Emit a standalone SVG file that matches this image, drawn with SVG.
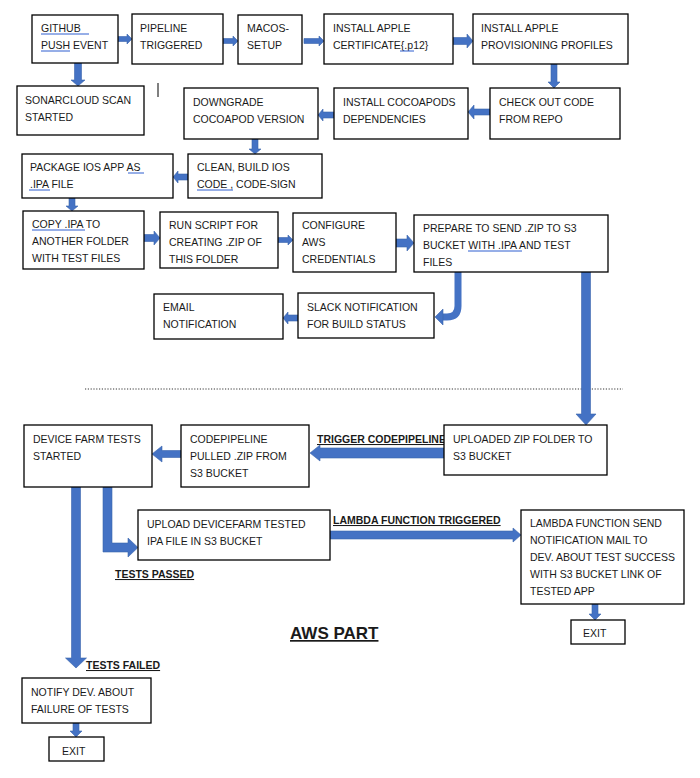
<svg xmlns="http://www.w3.org/2000/svg" width="700" height="778" viewBox="0 0 700 778">
<style>
.n rect{fill:#fff;stroke:#000;stroke-width:1.3}
text{font-family:"Liberation Sans",Arial,sans-serif;font-size:10.5px;fill:#1a1a1a}
.lbl{font-weight:bold;text-decoration:underline}
.c path{fill:#4472C4;stroke:#3b64ad;stroke-width:0.6}
.c path.s{fill:none;stroke:#4472C4;stroke-width:7}
.sp{stroke:#2f5fd0;stroke-width:1}
</style>
<rect width="700" height="778" fill="#fff"/>
<g id="labels">
<text class="lbl" x="317" y="443">TRIGGER CODEPIPELINE</text>
<text class="lbl" x="333" y="524">LAMBDA FUNCTION TRIGGERED</text>
<text class="lbl" x="115" y="578">TESTS PASSED</text>
<text class="lbl" x="86" y="669">TESTS FAILED</text>
<text class="lbl" x="290" y="639" style="font-size:17px">AWS PART</text>
</g>
<line x1="85" y1="389" x2="623" y2="389" stroke="#000" stroke-width="0.8" stroke-dasharray="1.2,1.6"/>
<line x1="158" y1="83" x2="158" y2="97" stroke="#000" stroke-width="1"/>
<g class="c" id="connectors">
<path d="M118,36.5 H127 V34 L132,39 L127,44 V41.5 H118Z"/>
<path d="M223,38.5 H233 V36 L238,41 L233,46 V43.5 H223Z"/>
<path d="M304,38.5 H319 V36 L324,41 L319,46 V43.5 H304Z"/>
<path d="M453,37.5 H467 V34 L473,41 L467,48 V44.5 H453Z"/>
<path d="M551,64 V82 H548 L554,88 L560,82 H557 V64Z"/>
<path d="M490,109 H474 V105 L468,112 L474,119 V115 H490Z"/>
<path d="M334,112 H323 V109 L318,115 L323,121 V118 H334Z"/>
<path d="M74.5,63 V80 H71 L78,86 L85,80 H81.5 V63Z"/>
<path d="M252,139 V149 H249 L255,154 L261,149 H258 V139Z"/>
<path d="M188,174 H178 V171 L173,177 L178,183 V180 H188Z"/>
<path d="M69,198 V206 H66 L72,211 L78,206 H75 V198Z"/>
<path d="M144,234.5 H154 V231 L160,238 L154,245 V241.5 H144Z"/>
<path d="M278,237.5 H288 V235 L293,240 L288,245 V242.5 H278Z"/>
<path d="M396,239 H407 V235 L414,243 L407,251 V247 H396Z"/>
<path class="s" d="M458,272 V306 Q458,317 447,317 H442"/>
<path d="M443,309 L435,317 L443,325Z"/>
<path d="M298,315 H288 V312 L283,318 L288,324 V321 H298Z"/>
<path d="M581.5,272 V414 H576 L586,425 L596,414 H590.5 V272Z"/>
<path d="M444,448 H320 V445 L310,453 L320,461 V458 H444Z"/>
<path d="M181,450.5 H162 V446 L152,454 L162,462 V457.5 H181Z"/>
<path d="M71.5,487 V658 H65.5 L76,668 L86.5,658 H80.5 V487Z"/>
<path d="M103,487 V552 H128 V557 L138,547.5 L128,538 V543 H112 V487Z"/>
<path d="M330,531 H513 V528 L521,535 L513,542 V539 H330Z"/>
<path d="M592,604 V614 H589 L595,620 L601,614 H598 V604Z"/>
<path d="M73,723 V731 H70 L76,737 L82,731 H79 V723Z"/>
</g>
<g class="n" id="github"><rect x="32" y="15" width="86" height="48"/><text x="41" y="32">GITHUB</text><text x="41" y="49">PUSH EVENT</text></g>
<g class="n" id="pipeline"><rect x="132" y="14" width="91" height="50"/><text x="140" y="32">PIPELINE</text><text x="140" y="49">TRIGGERED</text></g>
<g class="n" id="macos"><rect x="238" y="15" width="64" height="49"/><text x="247" y="32">MACOS-</text><text x="247" y="49">SETUP</text></g>
<g class="n" id="cert"><rect x="324" y="14" width="129" height="50"/><text x="333" y="32">INSTALL APPLE</text><text x="333" y="49">CERTIFICATE{.p12}</text></g>
<g class="n" id="prov"><rect x="473" y="14" width="155" height="50"/><text x="481" y="32">INSTALL APPLE</text><text x="481" y="49">PROVISIONING PROFILES</text></g>
<g class="n" id="sonar"><rect x="17" y="86" width="127" height="49"/><text x="25" y="104">SONARCLOUD SCAN</text><text x="25" y="121">STARTED</text></g>
<g class="n" id="downgrade"><rect x="184" y="88" width="134" height="51"/><text x="193" y="106">DOWNGRADE</text><text x="193" y="123">COCOAPOD VERSION</text></g>
<g class="n" id="cocoapods"><rect x="334" y="88" width="134" height="51"/><text x="343" y="106">INSTALL COCOAPODS</text><text x="343" y="123">DEPENDENCIES</text></g>
<g class="n" id="checkout"><rect x="490" y="88" width="130" height="51"/><text x="499" y="106">CHECK OUT CODE</text><text x="499" y="123">FROM REPO</text></g>
<g class="n" id="package"><rect x="22" y="154" width="151" height="44"/><text x="30" y="171">PACKAGE IOS APP AS</text><text x="30" y="188">.IPA FILE</text></g>
<g class="n" id="clean"><rect x="188" y="154" width="134" height="44"/><text x="197" y="171">CLEAN, BUILD IOS</text><text x="197" y="188">CODE , CODE-SIGN</text></g>
<g class="n" id="copy"><rect x="23" y="211" width="121" height="58"/><text x="32" y="228">COPY .IPA TO</text><text x="32" y="245">ANOTHER FOLDER</text><text x="32" y="262">WITH TEST FILES</text></g>
<g class="n" id="runscript"><rect x="160" y="212" width="118" height="56"/><text x="169" y="229">RUN SCRIPT FOR</text><text x="169" y="246">CREATING .ZIP OF</text><text x="169" y="263">THIS FOLDER</text></g>
<g class="n" id="configure"><rect x="293" y="213" width="103" height="59"/><text x="302" y="229">CONFIGURE</text><text x="302" y="246">AWS</text><text x="302" y="263">CREDENTIALS</text></g>
<g class="n" id="prepare"><rect x="414" y="215" width="194" height="57"/><text x="423" y="232">PREPARE TO SEND .ZIP TO S3</text><text x="423" y="249">BUCKET WITH .IPA AND TEST</text><text x="423" y="266">FILES</text></g>
<g class="n" id="email"><rect x="154" y="294" width="129" height="45"/><text x="163" y="311">EMAIL</text><text x="163" y="328">NOTIFICATION</text></g>
<g class="n" id="slack"><rect x="298" y="293" width="136" height="45"/><text x="307" y="311">SLACK NOTIFICATION</text><text x="307" y="328">FOR BUILD STATUS</text></g>
<g class="n" id="devicefarm"><rect x="24" y="425" width="128" height="62"/><text x="33" y="443">DEVICE FARM TESTS</text><text x="33" y="460">STARTED</text></g>
<g class="n" id="codepipeline"><rect x="181" y="425" width="128" height="62"/><text x="190" y="443">CODEPIPELINE</text><text x="190" y="460">PULLED .ZIP FROM</text><text x="190" y="477">S3 BUCKET</text></g>
<g class="n" id="uploaded"><rect x="444" y="425" width="163" height="50"/><text x="453" y="443">UPLOADED ZIP FOLDER TO</text><text x="453" y="460">S3 BUCKET</text></g>
<g class="n" id="uploadtested"><rect x="138" y="510" width="192" height="50"/><text x="147" y="528">UPLOAD DEVICEFARM TESTED</text><text x="147" y="545">IPA FILE IN S3 BUCKET</text></g>
<g class="n" id="lambda"><rect x="521" y="510" width="163" height="94"/><text x="530" y="527">LAMBDA FUNCTION SEND</text><text x="530" y="544">NOTIFICATION MAIL TO</text><text x="530" y="561">DEV. ABOUT TEST SUCCESS</text><text x="530" y="578">WITH S3 BUCKET LINK OF</text><text x="530" y="595">TESTED APP</text></g>
<g class="n" id="exit1"><rect x="571" y="620" width="54" height="24"/><text x="583" y="637">EXIT</text></g>
<g class="n" id="notify"><rect x="22" y="678" width="129" height="45"/><text x="31" y="696">NOTIFY DEV. ABOUT</text><text x="31" y="713">FAILURE OF TESTS</text></g>
<g class="n" id="exit2"><rect x="49" y="737" width="55" height="24"/><text x="62" y="755">EXIT</text></g>
<g id="spellmarks">
<line class="sp" x1="41" y1="34" x2="89" y2="34"/>
<line class="sp" x1="41" y1="51" x2="70" y2="51"/>
<line class="sp" x1="400" y1="51" x2="414" y2="51"/>
<line class="sp" x1="128" y1="173" x2="144" y2="173"/>
<line class="sp" x1="29" y1="190" x2="50" y2="190"/>
<line class="sp" x1="197" y1="190" x2="233" y2="190"/>
<line class="sp" x1="32" y1="230" x2="85" y2="230"/>
<line class="sp" x1="468" y1="251" x2="522" y2="251"/>
</g>
</svg>
